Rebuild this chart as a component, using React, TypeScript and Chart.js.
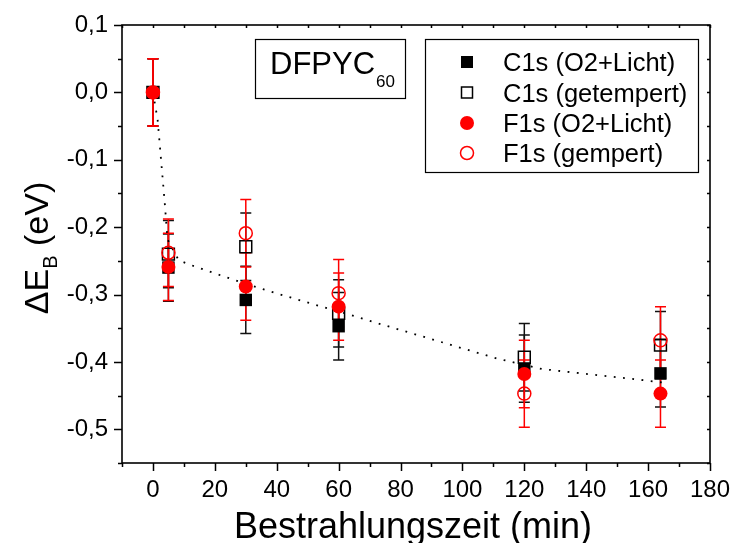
import React, { useEffect, useRef } from 'react';
import { Chart, registerables } from 'chart.js';

Chart.register(...registerables);

// ---- data ----
const xValues = [0, 5, 30, 60, 120, 164];
const c1sLicht = [0, -0.26, -0.308, -0.347, -0.41, -0.417];
const c1sGetempert = [0, -0.24, -0.229, -0.328, -0.393, -0.375];
const f1sLicht = [0, -0.259, -0.288, -0.318, -0.418, -0.447];
const f1sGempert = [0, -0.238, -0.209, -0.298, -0.447, -0.368];
const c1sLichtErr = [0.05, 0.05, 0.05, 0.05, 0.05, 0.05];
const c1sGetempertErr = [0.05, 0.05, 0.05, 0.05, 0.05, 0.05];
const f1sLichtErr = [0.05, 0.05, 0.05, 0.05, 0.05, 0.05];
const f1sGempertErr = [0.05, 0.05, 0.05, 0.05, 0.05, 0.05];

const fitX = [0, 1.5, 2.8, 3.8, 4.7, 8.3, 11.2, 17.1, 22.8, 30, 40.5, 52.3, 60, 70, 111.2, 125.7, 155.5, 164.4];
const fitY = [0, -0.04, -0.11, -0.163, -0.218, -0.249, -0.2545, -0.264, -0.273, -0.284, -0.299, -0.315, -0.325, -0.339, -0.395, -0.4105, -0.4255, -0.4305];

const seriesNames = ['C1s (O2+Licht)', 'C1s (getempert)', 'F1s (O2+Licht)', 'F1s (gempert)'];
const sampleName = 'DFPYC';
const sampleSub = '60';
const xTitle = 'Bestrahlungszeit (min)';
const yTitleMain = '\u0394E';
const yTitleSub = 'B';
const yTitleRest = ' (eV)';

const FONT = '"Liberation Sans", Arial, Helvetica, sans-serif';
const RED = '#ff0000';
const BLACK = '#000000';

const pts = (xs: number[], ys: number[]) => xs.map((x, i) => ({ x, y: ys[i] }));

const errorSets = [
  { ys: c1sLicht, err: c1sLichtErr, color: '#111111' },
  { ys: c1sGetempert, err: c1sGetempertErr, color: '#111111' },
  { ys: f1sLicht, err: f1sLichtErr, color: RED },
  { ys: f1sGempert, err: f1sGempertErr, color: RED },
];

const isMajorY = (v: number) => Math.abs(v * 10 - Math.round(v * 10)) < 1e-6;
const fmtY = (v: number) => {
  const s = (Math.round(v * 10) / 10).toFixed(1).replace('.', ',');
  return s === '-0,0' ? '0,0' : s;
};

const framePlugin = {
  id: 'frameAndErrors',
  beforeDatasetsDraw(chart: any) {
    const { ctx, chartArea: a, scales } = chart;
    const xs = scales.x;
    const ys = scales.y;
    ctx.save();
    ctx.strokeStyle = BLACK;
    ctx.lineWidth = 1.6;
    ctx.strokeRect(a.left, a.top, a.right - a.left, a.bottom - a.top);
    ctx.lineWidth = 1.5;
    ctx.beginPath();
    xs.ticks.forEach((t: any) => {
      const px = Math.round(xs.getPixelForValue(t.value)) + 0.5;
      const major = Math.round(t.value) % 20 === 0;
      ctx.moveTo(px, a.bottom);
      ctx.lineTo(px, a.bottom + (major ? 8 : 4));
      ctx.moveTo(px, a.top);
      ctx.lineTo(px, a.top + 3);
    });
    ys.ticks.forEach((t: any) => {
      const py = Math.round(ys.getPixelForValue(t.value)) + 0.5;
      const major = isMajorY(t.value);
      ctx.moveTo(a.left, py);
      ctx.lineTo(a.left - (major ? 8 : 4), py);
      ctx.moveTo(a.right, py);
      ctx.lineTo(a.right - 3, py);
    });
    ctx.stroke();

    // error bars
    const cap = 5.5;
    errorSets.forEach((s) => {
      ctx.strokeStyle = s.color;
      ctx.lineWidth = 1.5;
      ctx.beginPath();
      xValues.forEach((x, i) => {
        const px = xs.getPixelForValue(x);
        const top = ys.getPixelForValue(s.ys[i] + s.err[i]);
        const bot = ys.getPixelForValue(s.ys[i] - s.err[i]);
        ctx.moveTo(px, top);
        ctx.lineTo(px, bot);
        ctx.moveTo(px - cap, top);
        ctx.lineTo(px + cap, top);
        ctx.moveTo(px - cap, bot);
        ctx.lineTo(px + cap, bot);
      });
      ctx.stroke();
    });
    ctx.restore();
  },
  afterDraw(chart: any) {
    const { ctx } = chart;
    ctx.save();
    ctx.fillStyle = BLACK;
    ctx.strokeStyle = BLACK;

    // sample box
    ctx.lineWidth = 1.2;
    ctx.fillStyle = '#ffffff';
    ctx.fillRect(255.5, 39.5, 150, 59);
    ctx.strokeRect(255.5, 39.5, 150, 59);
    ctx.fillStyle = BLACK;
    ctx.textBaseline = 'alphabetic';
    ctx.textAlign = 'left';
    ctx.font = `31px ${FONT}`;
    ctx.fillText(sampleName, 270, 74);
    const w = ctx.measureText(sampleName).width;
    ctx.font = `17px ${FONT}`;
    ctx.fillText(sampleSub, 270 + w + 1, 87);

    // legend box
    ctx.fillStyle = '#ffffff';
    ctx.fillRect(425.5, 39.5, 273, 133);
    ctx.strokeRect(425.5, 39.5, 273, 133);
    const rows = [62, 92.5, 123, 153];
    const mx = 467;
    ctx.font = `25.5px ${FONT}`;
    rows.forEach((ry, i) => {
      ctx.lineWidth = 1.5;
      if (i === 0) {
        ctx.fillStyle = BLACK;
        ctx.fillRect(mx - 6, ry - 6, 12, 12);
      } else if (i === 1) {
        ctx.strokeStyle = BLACK;
        ctx.strokeRect(mx - 5.5, ry - 5.5, 11, 11);
      } else if (i === 2) {
        ctx.fillStyle = RED;
        ctx.beginPath();
        ctx.arc(mx, ry, 7, 0, Math.PI * 2);
        ctx.fill();
      } else {
        ctx.strokeStyle = RED;
        ctx.beginPath();
        ctx.arc(mx, ry, 6.5, 0, Math.PI * 2);
        ctx.stroke();
      }
      ctx.fillStyle = BLACK;
      ctx.fillText(seriesNames[i], 503, ry + 9);
    });

    // x title
    ctx.font = `36px ${FONT}`;
    ctx.textAlign = 'center';
    ctx.fillStyle = BLACK;
    ctx.fillText(xTitle, 413, 538);

    // y title (rotated, with subscript)
    const mainF = `34px ${FONT}`;
    const subF = `20px ${FONT}`;
    ctx.font = mainF;
    const w1 = ctx.measureText(yTitleMain).width;
    const w3 = ctx.measureText(yTitleRest).width;
    ctx.font = subF;
    const w2 = ctx.measureText(yTitleSub).width;
    const total = w1 + w2 + w3;
    ctx.translate(48, 248);
    ctx.rotate(-Math.PI / 2);
    ctx.textAlign = 'left';
    let cx = -total / 2;
    ctx.font = mainF;
    ctx.fillText(yTitleMain, cx, 0);
    cx += w1;
    ctx.font = subF;
    ctx.fillText(yTitleSub, cx, 9);
    cx += w2;
    ctx.font = mainF;
    ctx.fillText(yTitleRest, cx, 0);
    ctx.restore();
  },
};

export default function App() {
  const ref = useRef<HTMLCanvasElement | null>(null);
  useEffect(() => {
    document.body.style.margin = '0';
    const canvas = ref.current;
    if (!canvas) return;
    const chart = new Chart(canvas, {
      type: 'scatter',
      data: {
        datasets: [
          {
            label: 'fit',
            data: pts(fitX, fitY),
            showLine: true,
            borderColor: BLACK,
            borderWidth: 1.8,
            borderDash: [1.8, 7.5],
            pointRadius: 0,
            tension: 0,
            fill: false,
            order: 10,
          },
          {
            label: seriesNames[0],
            data: pts(xValues, c1sLicht),
            pointStyle: 'rect',
            pointRadius: 8.8,
            backgroundColor: BLACK,
            borderColor: BLACK,
            borderWidth: 0,
            order: 4,
          },
          {
            label: seriesNames[1],
            data: pts(xValues, c1sGetempert),
            pointStyle: 'rect',
            pointRadius: 8.4,
            backgroundColor: 'rgba(0,0,0,0)',
            borderColor: BLACK,
            borderWidth: 1.5,
            order: 3,
          },
          {
            label: seriesNames[2],
            data: pts(xValues, f1sLicht),
            pointStyle: 'circle',
            pointRadius: 7,
            backgroundColor: RED,
            borderColor: RED,
            borderWidth: 0,
            order: 2,
          },
          {
            label: seriesNames[3],
            data: pts(xValues, f1sGempert),
            pointStyle: 'circle',
            pointRadius: 6.5,
            backgroundColor: 'rgba(0,0,0,0)',
            borderColor: RED,
            borderWidth: 1.5,
            order: 1,
          },
        ],
      },
      options: {
        responsive: false,
        animation: false,
        devicePixelRatio: 1,
        layout: { padding: { top: 25, right: 24, left: 0, bottom: 0 } },
        plugins: { legend: { display: false }, tooltip: { enabled: false }, title: { display: false } },
        scales: {
          x: {
            type: 'linear',
            min: -10,
            max: 180,
            grid: { display: false, drawTicks: false },
            border: { display: false },
            ticks: {
              stepSize: 10,
              autoSkip: false,
              maxRotation: 0,
              padding: 13,
              color: BLACK,
              font: { family: FONT, size: 24 },
              callback: (v: any) => (Math.round(v) % 20 === 0 ? String(Math.round(v)) : ''),
            },
            afterFit: (s: any) => {
              s.height = 80;
              s.paddingLeft = 0;
              s.paddingRight = 0;
            },
          },
          y: {
            type: 'linear',
            min: -0.55,
            max: 0.1,
            grid: { display: false, drawTicks: false },
            border: { display: false },
            ticks: {
              stepSize: 0.05,
              autoSkip: false,
              padding: 14,
              color: BLACK,
              font: { family: FONT, size: 24 },
              callback: (v: any) => (isMajorY(v) ? fmtY(v) : ''),
            },
            afterFit: (s: any) => {
              s.width = 122;
              s.paddingTop = 0;
              s.paddingBottom = 0;
            },
          },
        },
      },
      plugins: [framePlugin],
    });
    return () => chart.destroy();
  }, []);
  return (
    <div style={{ position: 'absolute', left: 0, top: 0, width: 734, height: 543, background: '#fff' }}>
      <canvas ref={ref} width={734} height={543} style={{ display: 'block' }} />
    </div>
  );
}
